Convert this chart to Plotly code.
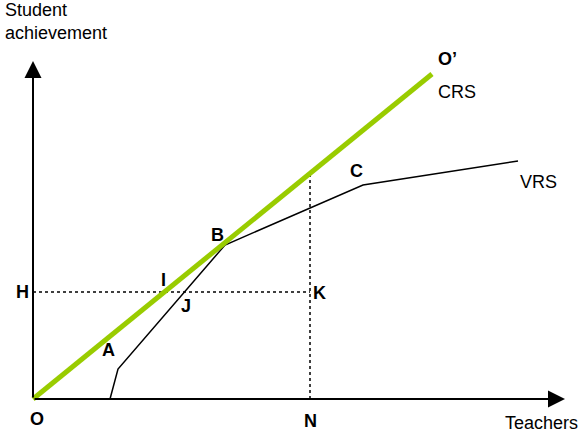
import plotly.graph_objects as go

# CRS frontier (ray from origin)
crs_x = [0, 399]
crs_y = [0, 325]
# VRS frontier
vrs_x = [77, 85, 192, 330, 485]
vrs_y = [0, 30, 154, 214, 238]
# reference levels
h_level = 107      # output level H
n_level = 277      # teachers level N
axis_x_end = 532
axis_y_end = 338

crs_at_n = crs_y[1] / crs_x[1] * n_level

point_labels = ["O", "N", "H", "K", "I", "J", "A", "B", "C", "O’"]
point_x = [4, 277, -11, 286, 130, 153, 75, 184, 323, 414]
point_y = [-20, -22, 107, 106, 119, 93, 49, 164, 228, 340]

GREEN = "#99CC00"
FONT = "Liberation Sans, Arial, sans-serif"
FS = 18

fig = go.Figure()

# dotted guides
fig.add_trace(go.Scatter(x=[0, n_level], y=[h_level, h_level], mode="lines",
                         line=dict(color="black", width=1.5, dash="dot"), hoverinfo="skip"))
fig.add_trace(go.Scatter(x=[n_level, n_level], y=[0, crs_at_n], mode="lines",
                         line=dict(color="black", width=1.5, dash="dot"), hoverinfo="skip"))
# VRS
fig.add_trace(go.Scatter(x=vrs_x, y=vrs_y, mode="lines",
                         line=dict(color="black", width=1.5), hoverinfo="skip"))
# CRS
fig.add_trace(go.Scatter(x=crs_x, y=crs_y, mode="lines",
                         line=dict(color=GREEN, width=5), hoverinfo="skip"))

annotations = []
# axes with arrows
annotations.append(dict(x=axis_x_end, y=0, ax=0, ay=0, xref="x", yref="y", axref="x", ayref="y",
                        showarrow=True, arrowhead=2, arrowsize=1.7, arrowwidth=2,
                        arrowcolor="black", text=""))
annotations.append(dict(x=0, y=axis_y_end, ax=0, ay=0, xref="x", yref="y", axref="x", ayref="y",
                        showarrow=True, arrowhead=2, arrowsize=1.7, arrowwidth=2,
                        arrowcolor="black", text=""))

for t, x, y in zip(point_labels, point_x, point_y):
    annotations.append(dict(x=x, y=y, xref="x", yref="y", text=f"<b>{t}</b>", showarrow=False,
                            font=dict(family=FONT, size=FS, color="black")))

annotations.append(dict(x=403, y=307, xref="x", yref="y", text="CRS", showarrow=False,
                        xanchor="left", font=dict(family=FONT, size=FS, color="black")))
annotations.append(dict(x=505, y=217, xref="x", yref="y", text="VRS", showarrow=False,
                        font=dict(family=FONT, size=FS, color="black")))
annotations.append(dict(x=547, y=-24, xref="x", yref="y", text="Teachers", showarrow=False,
                        xanchor="right", font=dict(family=FONT, size=FS, color="black")))
annotations.append(dict(x=-30, y=378, xref="x", yref="y", text="Student<br>achievement",
                        showarrow=False, xanchor="left", align="left",
                        font=dict(family=FONT, size=FS, color="black")))

fig.update_layout(
    width=582, height=432,
    margin=dict(l=0, r=0, t=0, b=0),
    paper_bgcolor="white", plot_bgcolor="white",
    showlegend=False,
    xaxis=dict(range=[-33, 549], visible=False, fixedrange=True),
    yaxis=dict(range=[-33, 399], visible=False, fixedrange=True),
    annotations=annotations,
)

fig.write_html("out.html", config={"displayModeBar": False},
               post_script="document.body.style.margin='0';document.body.style.overflow='hidden';")
